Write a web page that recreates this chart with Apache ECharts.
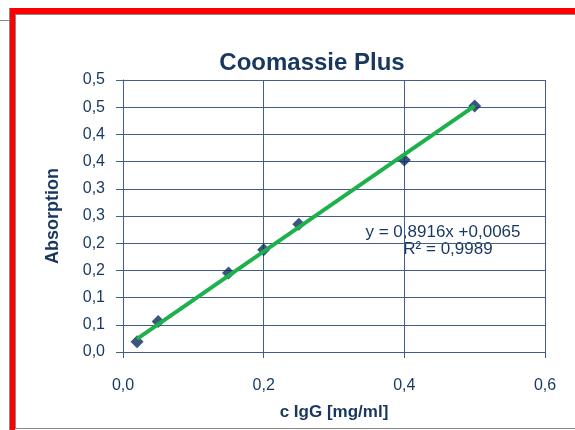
<!DOCTYPE html>
<html>
<head>
<meta charset="utf-8">
<script src="https://cdn.jsdelivr.net/npm/echarts@6/dist/echarts.min.js"></script>
<style>
html,body{margin:0;padding:0;background:#fff;}
#chart{width:575px;height:430px;}
</style>
</head>
<body>
<div id="chart"></div>
<script>
// Data
var concentrations = [0.02, 0.05, 0.15, 0.20, 0.25, 0.40, 0.50];
var absorptions    = [0.019, 0.056, 0.145, 0.188, 0.235, 0.353, 0.452];
var trendX = [0.02, 0.50];
var trendY = [0.0243, 0.4523];
var yTickLabels = ['0,0','0,1','0,1','0,2','0,2','0,3','0,3','0,4','0,4','0,5','0,5'];
var xTickLabels = ['0,0','0,2','0,4','0,6'];
var titleText = 'Coomassie Plus';
var equationText = 'y = 0,8916x +0,0065';
var r2Text = 'R\u00b2 = 0,9989';

var navy = '#17375e';
var gridColor = '#405d8c';

var chart = echarts.init(document.getElementById('chart'), null, {renderer: 'canvas'});
chart.setOption({
  backgroundColor: '#ffffff',
  animation: false,
  title: {
    text: titleText,
    left: 307, top: 46, textAlign: 'center',
    textStyle: {color: navy, fontFamily: 'Liberation Sans, Arial', fontSize: 24, fontWeight: 'bold'}
  },
  grid: {left: 123, right: 30, top: 80, bottom: 78, containLabel: false},
  xAxis: {
    type: 'value', min: 0, max: 0.6, interval: 0.2,
    name: 'c IgG [mg/ml]', nameLocation: 'middle', nameGap: 52,
    nameTextStyle: {color: navy, fontFamily: 'Liberation Sans, Arial', fontSize: 17, fontWeight: 'bold'},
    axisLine: {show: true, onZero: false, lineStyle: {color: gridColor, width: 1}},
    axisTick: {show: true, length: 6, lineStyle: {color: gridColor}},
    axisLabel: {color: navy, fontFamily: 'Liberation Sans, Arial', fontSize: 16, margin: 26,
      formatter: function (v) { return xTickLabels[Math.round(v / 0.2)]; }},
    splitLine: {show: true, lineStyle: {color: gridColor, width: 1}}
  },
  yAxis: {
    type: 'value', min: 0, max: 0.5, interval: 0.05,
    name: 'Absorption', nameLocation: 'middle', nameGap: 61, nameRotate: 90,
    nameTextStyle: {color: navy, fontFamily: 'Liberation Sans, Arial', fontSize: 18, fontWeight: 'bold'},
    axisLine: {show: true, onZero: false, lineStyle: {color: gridColor, width: 1}},
    axisTick: {show: true, length: 7, lineStyle: {color: gridColor}},
    axisLabel: {color: navy, fontFamily: 'Liberation Sans, Arial', fontSize: 16, margin: 18,
      formatter: function (v) { return yTickLabels[Math.round(v / 0.05)]; }},
    splitLine: {show: true, lineStyle: {color: gridColor, width: 1}}
  },
  series: [
    {
      type: 'scatter', name: 'data',
      data: concentrations.map(function (x, i) { return [x, absorptions[i]]; }),
      symbol: 'diamond', symbolSize: 13,
      itemStyle: {color: '#0b2a5c'}, z: 2
    },
    {
      type: 'line', name: 'trend',
      data: trendX.map(function (x, i) { return [x, trendY[i]]; }),
      showSymbol: false, symbol: 'none',
      lineStyle: {color: '#1db14b', width: 4}, z: 3
    }
  ],
  graphic: [
    {type: 'text', x: 443, y: 224, style: {text: equationText, fill: navy, align: 'center', font: '17px "Liberation Sans", Arial'}},
    {type: 'text', x: 448, y: 241, style: {text: r2Text, fill: navy, align: 'center', font: '17px "Liberation Sans", Arial'}},
    // frame decoration
    {type: 'line', shape: {x1: 0, y1: 20.5, x2: 9, y2: 20.5}, style: {stroke: '#8a8a8a', lineWidth: 1}},
    {type: 'line', shape: {x1: 9.5, y1: 8, x2: 9.5, y2: 430}, style: {stroke: '#8a8a8a', lineWidth: 1}},
    {type: 'rect', shape: {x: 10, y: 8, width: 5, height: 422}, style: {fill: '#ff0000'}},
    {type: 'rect', shape: {x: 10, y: 8, width: 565, height: 6}, style: {fill: '#ff0000'}},
    {type: 'line', shape: {x1: 15.5, y1: 14, x2: 15.5, y2: 428}, style: {stroke: '#8a8a8a', lineWidth: 1}},
    {type: 'line', shape: {x1: 15, y1: 14.5, x2: 575, y2: 14.5}, style: {stroke: '#8a8a8a', lineWidth: 1}},
    {type: 'line', shape: {x1: 15, y1: 428.5, x2: 575, y2: 428.5}, style: {stroke: '#8a8a8a', lineWidth: 1}}
  ]
});
</script>
</body>
</html>
